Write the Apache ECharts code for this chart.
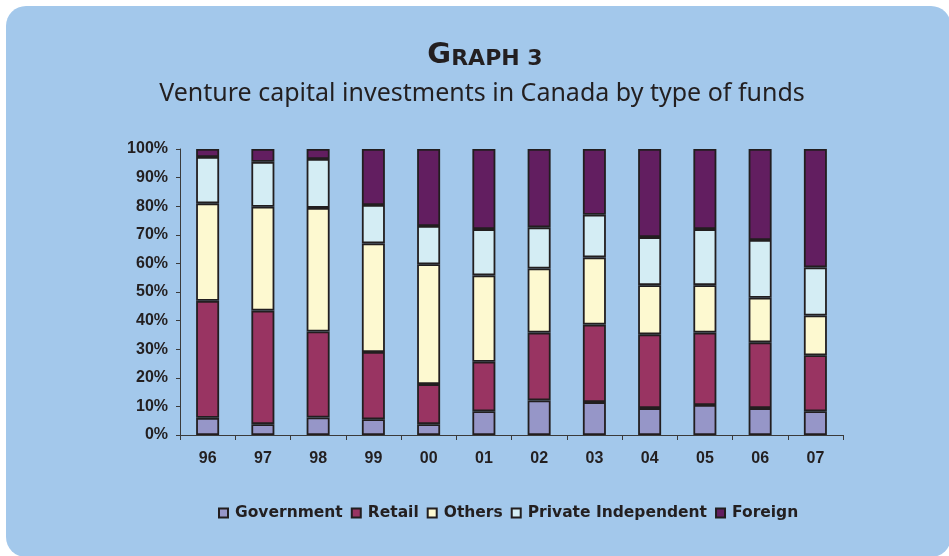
<!DOCTYPE html>
<html>
<head>
<meta charset="utf-8">
<script src="https://cdn.jsdelivr.net/npm/echarts@6/dist/echarts.min.js"></script>
<style>
  html, body { margin: 0; padding: 0; background: #fff; }
  #chart { width: 949px; height: 556px; }
</style>
</head>
<body>
<div id="chart"></div>
<script>
  // years (19xx / 20xx)
  var categories = ['96', '97', '98', '99', '00', '01', '02', '03', '04', '05', '06', '07']
  // share of investments, %
  var government = [6.0, 3.8, 6.1, 5.5, 3.8, 8.3, 12.1, 11.5, 9.4, 10.5, 9.4, 8.3]
  var retail = [40.9, 39.7, 30.1, 23.5, 14.0, 17.3, 23.7, 27.1, 25.8, 25.3, 23.0, 19.6]
  var others = [34.1, 36.3, 43.2, 38.0, 41.9, 30.2, 22.4, 23.5, 17.2, 16.6, 15.6, 13.9]
  var privateIndependent = [16.2, 15.7, 17.1, 13.4, 13.4, 16.2, 14.4, 14.9, 16.8, 19.6, 20.2, 16.8]
  var foreign = [2.8, 4.5, 3.5, 19.6, 26.9, 28.0, 27.4, 23.0, 30.8, 28.0, 31.8, 41.4]

  var ink = '#231f20'
  var myChart = echarts.init(document.getElementById('chart'))

  function bar(name, color, data) {
    return {
      name: name,
      type: 'bar',
      stack: 'total',
      barWidth: 23,
      itemStyle: {
        color: color,
        borderColor: '#221e1f',
        borderWidth: 1.8
      },
      data: data
    }
  }

  var option = {
    backgroundColor: '#fff',
    animation: false,
    graphic: [
      {
        type: 'rect',
        z: -10,
        shape: { x: 6, y: 6, width: 945, height: 551, r: 20 },
        style: { fill: '#a3c8eb' }
      },
      {
        type: 'text',
        x: 485,
        y: 70,
        style: {
          text: '{a|G}{b|RAPH 3}',
          textAlign: 'center',
          textVerticalAlign: 'bottom',
          fill: ink,
          rich: {
            a: { fontFamily: 'DejaVu Sans', fontWeight: 'bold', fontSize: 29, verticalAlign: 'bottom', fill: ink },
            b: { fontFamily: 'DejaVu Sans', fontWeight: 'bold', fontSize: 22, verticalAlign: 'bottom', fill: ink }
          }
        }
      },
      {
        type: 'text',
        x: 482,
        y: 94,
        style: {
          text: 'Venture capital investments in Canada by type of funds',
          textAlign: 'center',
          textVerticalAlign: 'middle',
          fontFamily: 'Noto Sans',
          fontSize: 25,
          fill: ink
        }
      }
    ],
    legend: {
      left: 213,
      top: 500,
      icon: 'rect',
      itemWidth: 9,
      itemHeight: 9,
      itemGap: 8,
      textStyle: {
        fontFamily: 'DejaVu Sans',
        fontWeight: 'bold',
        fontSize: 15.5,
        color: ink,
        padding: [0, 0, 0, 2]
      },
      data: ['Government', 'Retail', 'Others', 'Private Independent', 'Foreign']
    },
    grid: {
      left: 180,
      right: 106,
      top: 149,
      bottom: 121
    },
    xAxis: {
      type: 'category',
      data: categories,
      axisLine: { lineStyle: { color: '#3a3a3a', width: 1 } },
      axisTick: { show: true, length: 5, lineStyle: { color: '#3a3a3a' } },
      axisLabel: {
        margin: 16,
        fontFamily: 'Liberation Sans',
        fontWeight: 'bold',
        fontSize: 16,
        color: ink
      }
    },
    yAxis: {
      type: 'value',
      min: 0,
      max: 100,
      interval: 10,
      axisLine: { show: true, lineStyle: { color: '#3a3a3a', width: 1 } },
      axisTick: { show: true, length: 4, lineStyle: { color: '#3a3a3a' } },
      splitLine: { show: false },
      axisLabel: {
        margin: 12,
        formatter: '{value}%',
        fontFamily: 'Liberation Sans',
        fontWeight: 'bold',
        fontSize: 16,
        color: ink
      }
    },
    series: [
      bar('Government', '#9696c8', government),
      bar('Retail', '#993462', retail),
      bar('Others', '#fdf9d0', others),
      bar('Private Independent', '#d4edf4', privateIndependent),
      bar('Foreign', '#621e60', foreign)
    ]
  }

  myChart.setOption(option)
</script>
</body>
</html>
